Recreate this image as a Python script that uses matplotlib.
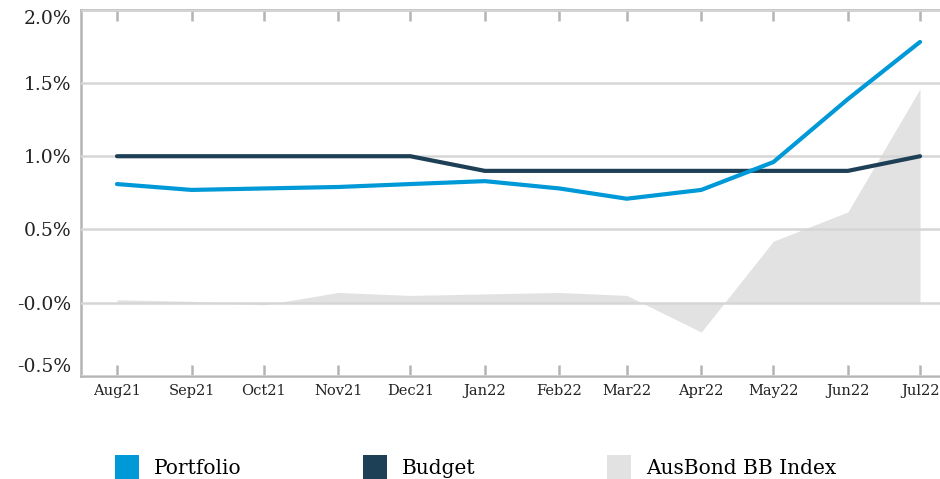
import datetime as dt
import matplotlib
matplotlib.use("Agg")
import matplotlib.pyplot as plt
import matplotlib.dates as mdates
from matplotlib.patches import Patch
from matplotlib.ticker import FixedLocator, FixedFormatter

# Month-end reporting periods (plotted at the first of each month)
months = ["Aug21", "Sep21", "Oct21", "Nov21", "Dec21", "Jan22",
          "Feb22", "Mar22", "Apr22", "May22", "Jun22", "Jul22"]
month_starts = [dt.date(2021, 8, 1), dt.date(2021, 9, 1), dt.date(2021, 10, 1),
                dt.date(2021, 11, 1), dt.date(2021, 12, 1), dt.date(2022, 1, 1),
                dt.date(2022, 2, 1), dt.date(2022, 3, 1), dt.date(2022, 4, 1),
                dt.date(2022, 5, 1), dt.date(2022, 6, 1), dt.date(2022, 7, 1)]

portfolio = [0.81, 0.77, 0.78, 0.79, 0.81, 0.83, 0.78, 0.71, 0.77, 0.96, 1.39, 1.78]
budget = [1.00, 1.00, 1.00, 1.00, 1.00, 0.90, 0.90, 0.90, 0.90, 0.90, 0.90, 1.00]
ausbond = [0.02, 0.01, -0.015, 0.07, 0.05, 0.06, 0.07, 0.05, -0.20, 0.42, 0.62, 1.46]

y_ticks = [-0.5, 0.0, 0.5, 1.0, 1.5, 2.0]
y_labels = ["-0.5%", "-0.0%", "0.5%", "1.0%", "1.5%", "2.0%"]

c_portfolio = "#0099d8"
c_budget = "#1e4057"
c_index = "#e2e2e2"
c_axis = "#b4b4b4"
c_grid = "#d6d6d6"

tick_font = "DejaVu Serif"
legend_font = "DejaVu Serif"

fig = plt.figure(figsize=(9.4, 4.79), dpi=100)
ax = fig.add_axes([81 / 940, 103 / 479, 859 / 940, 366.3 / 479])

x = mdates.date2num(month_starts)

ax.fill_between(x, 0, ausbond, color=c_index, linewidth=0, zorder=1)
ax.plot(x, budget, color=c_budget, linewidth=3.0, solid_capstyle="round",
        solid_joinstyle="round", zorder=4)
ax.plot(x, portfolio, color=c_portfolio, linewidth=3.0, solid_capstyle="round",
        solid_joinstyle="round", zorder=5)

ax.set_xlim(x[0] - 14.97, x[-1] + 8.3)
ax.set_ylim(-0.5, 2.0)

# y axis
ax.yaxis.set_major_locator(FixedLocator(y_ticks))
ax.yaxis.set_major_formatter(FixedFormatter(y_labels))
ax.tick_params(axis="y", length=0, pad=7, labelsize=13.5, labelcolor="#222222")
for lab in ax.get_yticklabels():
    lab.set_fontfamily(tick_font)
ylabs = ax.get_yticklabels()
ylabs[0].set_va("bottom")
ylabs[-1].set_va("top")
ax.grid(axis="y", color=c_grid, linewidth=1.8, zorder=2)
ax.set_axisbelow(False)

# x axis: ticks inside, top and bottom
ax.xaxis.set_major_locator(FixedLocator(x))
ax.xaxis.set_major_formatter(FixedFormatter(months))
ax.tick_params(axis="x", direction="in", length=8, width=1.8, color=c_axis,
               top=True, bottom=True, pad=6, labelsize=10.5, labelcolor="#222222")
for lab in ax.get_xticklabels():
    lab.set_fontfamily(tick_font)

for side in ["left", "bottom", "top"]:
    ax.spines[side].set_color(c_axis)
    ax.spines[side].set_linewidth(1.8)
ax.spines["right"].set_visible(False)

# legend entries
entries = [("Portfolio", c_portfolio, 115), ("Budget", c_budget, 363),
           ("AusBond BB Index", c_index, 607)]
for label, color, px in entries:
    fig.legend(handles=[Patch(facecolor=color, edgecolor="none", label=label)],
               loc="center left", bbox_to_anchor=(px / 940, 1 - 467 / 479),
               frameon=False, handlelength=1.2, handleheight=1.5,
               handletextpad=0.75, borderaxespad=0, borderpad=0,
               prop={"family": legend_font, "size": 14.5})

fig.savefig("out.png", dpi=100)
